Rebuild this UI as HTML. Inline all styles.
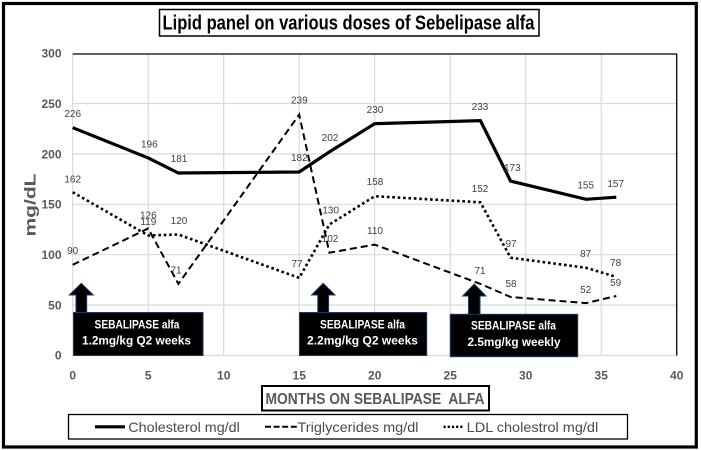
<!DOCTYPE html>
<html>
<head>
<meta charset="utf-8">
<style>
html,body{margin:0;padding:0;background:#fff;}
svg{display:block;}
text{font-family:"Liberation Sans",Arial,sans-serif;}
</style>
</head>
<body>
<svg width="701" height="450" viewBox="0 0 701 450" xmlns="http://www.w3.org/2000/svg">
<rect x="0" y="0" width="701" height="450" fill="#fff"/>
<!-- outer frame -->
<rect x="3.5" y="3.5" width="692.8" height="443.5" fill="none" stroke="#000" stroke-width="3.2"/>

<!-- title -->
<rect x="159.5" y="9.5" width="379.5" height="26.5" fill="#fff" stroke="#000" stroke-width="1.5"/>
<text x="162.5" y="29.5" font-size="20" font-weight="bold" fill="#000" textLength="372" lengthAdjust="spacingAndGlyphs">Lipid panel on various doses of Sebelipase alfa</text>

<!-- gridlines -->
<g stroke="#d9d9d9" stroke-width="1.2">
  <line x1="148.2" y1="54" x2="148.2" y2="355.5"/>
  <line x1="223.7" y1="54" x2="223.7" y2="355.5"/>
  <line x1="299.2" y1="54" x2="299.2" y2="355.5"/>
  <line x1="374.7" y1="54" x2="374.7" y2="355.5"/>
  <line x1="450.2" y1="54" x2="450.2" y2="355.5"/>
  <line x1="525.7" y1="54" x2="525.7" y2="355.5"/>
  <line x1="601.2" y1="54" x2="601.2" y2="355.5"/>
  <line x1="72.7" y1="305.1" x2="676.7" y2="305.1"/>
  <line x1="72.7" y1="254.7" x2="676.7" y2="254.7"/>
  <line x1="72.7" y1="204.3" x2="676.7" y2="204.3"/>
  <line x1="72.7" y1="153.9" x2="676.7" y2="153.9"/>
  <line x1="72.7" y1="103.5" x2="676.7" y2="103.5"/>
  <line x1="72.7" y1="54" x2="72.7" y2="355.5"/>
  <line x1="72.7" y1="355.5" x2="676.7" y2="355.5"/>
</g>
<polyline points="72.7,54 676.7,54 676.7,355.5" fill="none" stroke="#000" stroke-width="1.3"/>

<!-- y tick labels -->
<g font-size="12" font-weight="bold" fill="#595959" text-anchor="end">
  <text x="61.5" y="57.5">300</text>
  <text x="61.5" y="107.9">250</text>
  <text x="61.5" y="158.3">200</text>
  <text x="61.5" y="208.7">150</text>
  <text x="61.5" y="259.1">100</text>
  <text x="61.5" y="309.5">50</text>
  <text x="61.5" y="359.5">0</text>
</g>
<!-- y title -->
<text transform="translate(35.5,205) rotate(-90)" x="0" y="0" font-size="16" font-weight="bold" fill="#595959" text-anchor="middle" textLength="63" lengthAdjust="spacingAndGlyphs">mg/dL</text>

<!-- x tick labels -->
<g font-size="12" font-weight="bold" fill="#595959" text-anchor="middle">
  <text x="72.7" y="379.5">0</text>
  <text x="148.2" y="379.5">5</text>
  <text x="223.7" y="379.5">10</text>
  <text x="299.2" y="379.5">15</text>
  <text x="374.7" y="379.5">20</text>
  <text x="450.2" y="379.5">25</text>
  <text x="525.7" y="379.5">30</text>
  <text x="601.2" y="379.5">35</text>
  <text x="676.7" y="379.5">40</text>
</g>

<!-- series -->
<polyline points="72.7,192.2 148.2,235.5 178.4,234.5 299.2,277.9 329.4,224.5 374.7,196.2 480.4,202.3 510.6,257.7 586.1,267.8 616.3,276.9" fill="none" stroke="#000" stroke-width="2.6" stroke-dasharray="2.6 2.8"/>
<polyline points="72.7,264.8 148.2,228.5 178.4,283.9 299.2,114.6 329.4,252.7 374.7,244.6 480.4,283.9 510.6,297.0 586.1,303.1 616.3,296.0" fill="none" stroke="#000" stroke-width="2" stroke-dasharray="7 4"/>
<polyline points="72.7,127.7 148.2,157.9 178.4,173.0 299.2,172.0 329.4,151.9 374.7,123.7 480.4,120.6 510.6,181.1 586.1,199.3 616.3,197.2" fill="none" stroke="#000" stroke-width="3.2" stroke-linejoin="miter"/>

<!-- data labels -->
<g font-size="10" fill="#404040" text-anchor="middle">
  <!-- cholesterol -->
  <text x="72.7" y="116.8">226</text>
  <text x="149.3" y="147.5">196</text>
  <text x="179" y="161.8">181</text>
  <text x="299.3" y="160.8">182</text>
  <text x="330" y="140.8">202</text>
  <text x="375" y="112.8">230</text>
  <text x="480" y="110.2">233</text>
  <text x="512.3" y="171.2">173</text>
  <text x="585.7" y="188.5">155</text>
  <text x="615.7" y="186.8">157</text>
  <!-- trig -->
  <text x="72.7" y="254.2">90</text>
  <text x="148.3" y="218.5">126</text>
  <text x="176" y="273.5">71</text>
  <text x="299.3" y="103.5">239</text>
  <text x="330" y="241.8">102</text>
  <text x="375" y="234.2">110</text>
  <text x="480" y="274.2">71</text>
  <text x="511" y="286.8">58</text>
  <text x="585.7" y="292.8">52</text>
  <text x="615.7" y="285.8">59</text>
  <!-- LDL -->
  <text x="72.7" y="182.5">162</text>
  <text x="148.3" y="225.2">119</text>
  <text x="179" y="224.2">120</text>
  <text x="297" y="266.8">77</text>
  <text x="330.7" y="213.5">130</text>
  <text x="375" y="185.2">158</text>
  <text x="480" y="191.8">152</text>
  <text x="511" y="246.8">97</text>
  <text x="585.7" y="256.8">87</text>
  <text x="615.7" y="265.8">78</text>
</g>

<!-- arrows -->
<g fill="#000" stroke="#1f3864" stroke-width="1">
  <polygon points="81.3,283.3 93.3,295 86.7,295 86.7,313 76,313 76,295 69.3,295"/>
  <polygon points="323.2,283.3 335,295 328.6,295 328.6,313 317.8,313 317.8,295 311.5,295"/>
  <polygon points="474.3,284 486,296 480,296 480,314.5 468.5,314.5 468.5,296 462.7,296"/>
</g>

<!-- boxes -->
<g fill="#000" stroke="#1f3864" stroke-width="1">
  <rect x="73.5" y="312.5" width="129.5" height="43"/>
  <rect x="299.5" y="312.5" width="127.2" height="43"/>
  <rect x="450.3" y="314.3" width="127.4" height="42.4"/>
</g>
<g font-size="12" font-weight="bold" fill="#fff" text-anchor="start" style="white-space:pre">
  <text x="94.5" y="328.5" textLength="85" lengthAdjust="spacingAndGlyphs">SEBALIPASE alfa</text>
  <text x="82" y="344.5" textLength="109" lengthAdjust="spacingAndGlyphs">1.2mg/kg  Q2 weeks</text>
  <text x="320" y="328.5" textLength="85" lengthAdjust="spacingAndGlyphs">SEBALIPASE alfa</text>
  <text x="307" y="344.5" textLength="111" lengthAdjust="spacingAndGlyphs">2.2mg/kg  Q2 weeks</text>
  <text x="471" y="329.5" textLength="85" lengthAdjust="spacingAndGlyphs">SEBALIPASE alfa</text>
  <text x="467.5" y="346" textLength="93" lengthAdjust="spacingAndGlyphs">2.5mg/kg weekly</text>
</g>

<!-- x axis title -->
<rect x="262" y="386" width="227" height="24.5" fill="#fff" stroke="#000" stroke-width="2"/>
<text x="265.5" y="404" font-size="16" font-weight="bold" fill="#595959" textLength="219" lengthAdjust="spacingAndGlyphs" style="white-space:pre">MONTHS ON SEBALIPASE  ALFA</text>

<!-- legend -->
<rect x="68.5" y="414.5" width="559" height="24.5" fill="#fff" stroke="#000" stroke-width="1.3"/>
<line x1="95" y1="426.8" x2="125" y2="426.8" stroke="#000" stroke-width="3.2"/>
<line x1="265" y1="426.8" x2="297" y2="426.8" stroke="#000" stroke-width="2" stroke-dasharray="6 2.6"/>
<line x1="443.5" y1="426.8" x2="464" y2="426.8" stroke="#000" stroke-width="2.4" stroke-dasharray="2.2 2"/>
<g font-size="14" fill="#4a4a4a">
  <text x="128.3" y="431.8" textLength="111.5" lengthAdjust="spacingAndGlyphs">Cholesterol mg/dl</text>
  <text x="297.5" y="431.8" textLength="121" lengthAdjust="spacingAndGlyphs">Triglycerides mg/dl</text>
  <text x="466.7" y="431.8" textLength="131.5" lengthAdjust="spacingAndGlyphs">LDL cholestrol mg/dl</text>
</g>
</svg>
</body>
</html>
